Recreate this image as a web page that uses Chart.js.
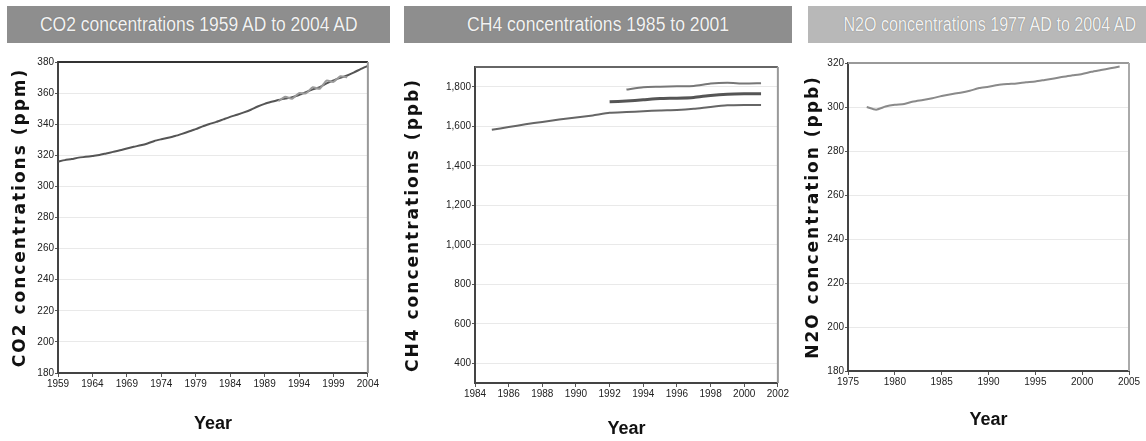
<!DOCTYPE html>
<html>
<head>
<meta charset="utf-8">
<script src="https://cdn.jsdelivr.net/npm/chart.js@4/dist/chart.umd.min.js"></script>
<style>
  body { margin: 0; background: #fff; width: 1146px; height: 441px; overflow: hidden; position: relative; }
  .hdr { position: absolute; top: 6px; height: 37px; line-height: 37px; text-align: center; overflow: hidden;
         color: #f2f2f2; font-family: 'Liberation Sans', sans-serif; font-size: 20px; text-shadow: 0 0 1px #666; }
  .hdr span { display: inline-block; white-space: nowrap; transform-origin: center; }
  .box { position: absolute; top: 0; height: 441px; }
</style>
</head>
<body>
<div class="hdr" style="left:7px;width:383px;background:#8e8e8e"><span data-w="318">CO2 concentrations 1959 AD to 2004 AD</span></div>
<div class="hdr" style="left:404px;width:388px;background:#8e8e8e"><span data-w="262">CH4 concentrations 1985 to 2001</span></div>
<div class="hdr" style="left:808px;width:338px;background:#b8b8b8"><span data-w="293">N2O concentrations 1977 AD to 2004 AD</span></div>

<div class="box" style="left:0;width:380px"><canvas id="co2"></canvas></div>
<div class="box" style="left:390px;width:400px"><canvas id="ch4"></canvas></div>
<div class="box" style="left:780px;width:366px"><canvas id="n2o"></canvas></div>

<script>
// CO2 (ppm), annual
const co2Years = [1959,1960,1961,1962,1963,1964,1965,1966,1967,1968,1969,1970,1971,1972,1973,1974,1975,1976,1977,1978,1979,1980,1981,1982,1983,1984,1985,1986,1987,1988,1989,1990,1991,1992,1993,1994,1995,1996,1997,1998,1999,2000,2001,2002,2003,2004];
const co2Values = [316.0,316.9,317.6,318.5,319.0,319.6,320.2,321.2,322.2,323.2,324.4,325.5,326.4,327.6,329.2,330.3,331.3,332.4,333.8,335.3,336.8,338.6,340.1,341.5,343.1,344.7,346.1,347.6,349.3,351.4,353.1,354.4,355.6,356.5,357.4,358.8,360.6,362.4,363.8,366.2,368.2,369.8,371.3,373.3,375.6,377.5];
// second CO2 record, visible as the thicker band in the 1990s
const co2AltYears = [1991,1992,1993,1994,1995,1996,1997,1998,1999,2000,2001];
const co2AltValues = [354.8,357.6,356.4,360.0,359.8,363.8,362.8,368.0,367.2,370.8,370.2];

// CH4 (ppb), three records
const ch4YearsA = [1985,1986,1987,1988,1989,1990,1991,1992,1993,1994,1995,1996,1997,1998,1999,2000,2001];
const ch4ValuesA = [1582,1596,1610,1622,1634,1644,1655,1668,1672,1676,1680,1682,1688,1698,1706,1708,1708];
const ch4YearsB = [1992,1993,1994,1995,1996,1997,1998,1999,2000,2001];
const ch4ValuesB = [1724,1728,1734,1740,1742,1746,1756,1762,1764,1764];
const ch4YearsC = [1993,1994,1995,1996,1997,1998,1999,2000,2001];
const ch4ValuesC = [1786,1798,1800,1802,1804,1816,1820,1816,1818];
const ch4Ticks = [400,600,800,1000,1200,1400,1600,1800];

// N2O (ppb)
const n2oYears = [1977,1978,1979,1980,1981,1982,1983,1984,1985,1986,1987,1988,1989,1990,1991,1992,1993,1994,1995,1996,1997,1998,1999,2000,2001,2002,2003,2004];
const n2oValues = [300.0,298.8,300.2,301.0,301.4,302.5,303.2,304.0,305.0,305.8,306.5,307.4,308.6,309.2,310.0,310.4,310.7,311.2,311.6,312.3,313.0,313.8,314.4,315.0,316.0,316.8,317.6,318.4];

const pts = (xs, ys) => xs.map((x, i) => ({ x: x, y: ys[i] }));

// squeeze the header texts to the narrow face of the original
document.querySelectorAll('.hdr span').forEach(sp => {
  sp.style.transform = 'scaleX(' + (Number(sp.dataset.w) / sp.offsetWidth) + ')';
});

const tickFont = { family: "'Liberation Sans', sans-serif", size: 10 };
const yTitleFont = { family: "'DejaVu Sans', sans-serif", size: 17, weight: 'bold' };
const xTitleFont = { family: "'Liberation Sans', sans-serif", size: 18, weight: 'bold' };

// draws the top and right sides of the plot frame
const framePlugin = {
  id: 'frame',
  afterDraw(chart, args, opts) {
    const { ctx, chartArea: a } = chart;
    ctx.save();
    ctx.lineWidth = 2;
    ctx.strokeStyle = opts.top;
    ctx.beginPath(); ctx.moveTo(a.left, a.top); ctx.lineTo(a.right, a.top); ctx.stroke();
    ctx.strokeStyle = opts.right;
    ctx.beginPath(); ctx.moveTo(a.right, a.top); ctx.lineTo(a.right, a.bottom); ctx.stroke();
    ctx.restore();
  }
};

// wider letter spacing on the y axis title
function spaceTitle(s, spacing) {
  if (s._spaced) return;
  const orig = s.drawTitle;
  s.drawTitle = function () {
    this.ctx.save();
    this.ctx.letterSpacing = spacing;
    orig.call(this);
    this.ctx.restore();
  };
  s._spaced = true;
}

function line(data, color, width) {
  return { data: data, borderColor: color, borderWidth: width, pointRadius: 0, tension: 0.2, fill: false };
}

function makeChart(id, datasets, cfg) {
  return new Chart(document.getElementById(id), {
    type: 'line',
    data: { datasets: datasets },
    plugins: [framePlugin],
    options: {
      responsive: true,
      maintainAspectRatio: false,
      animation: false,
      layout: { padding: { top: cfg.top, right: cfg.right, left: 0, bottom: 0 } },
      plugins: {
        legend: { display: false },
        tooltip: { enabled: false },
        frame: { top: cfg.frameTop, right: cfg.frameRight }
      },
      scales: {
        x: {
          type: 'linear',
          min: cfg.xMin, max: cfg.xMax,
          afterFit: s => { s.height = cfg.xHeight; },
          border: { color: '#444', width: 2 },
          grid: { drawOnChartArea: false, tickLength: 4, tickColor: '#555' },
          ticks: { stepSize: cfg.xStep, autoSkip: false, maxRotation: 0, color: '#222', font: tickFont, padding: 1,
                   callback: v => String(v) },
          title: { display: true, text: 'Year', color: '#111', font: xTitleFont, padding: { bottom: cfg.xTitlePad } }
        },
        y: {
          min: cfg.yMin, max: cfg.yMax,
          afterFit: s => { s.width = cfg.yWidth; spaceTitle(s, cfg.ySpacing); },
          afterBuildTicks: s => { if (cfg.yTicks) s.ticks = cfg.yTicks.map(v => ({ value: v })); },
          border: { color: '#444', width: 2 },
          grid: { color: '#e9e9e9', tickLength: 3, tickColor: '#555' },
          ticks: { stepSize: cfg.yStep, color: '#222', font: tickFont, padding: 1 },
          title: { display: true, text: cfg.yTitle, color: '#111', font: yTitleFont, padding: { top: cfg.yTitlePad } }
        }
      }
    }
  });
}

makeChart('co2', [
  line(pts(co2AltYears, co2AltValues), '#9a9a9a', 2),
  line(pts(co2Years, co2Values), '#555', 2)
], {
  top: 62, right: 12, xHeight: 68, yWidth: 58,
  xMin: 1959, xMax: 2004, xStep: 5, yMin: 180, yMax: 380, yStep: 20,
  yTitle: 'CO2 concentrations (ppm)', yTitlePad: 10, xTitlePad: 6, ySpacing: '2px',
  frameTop: '#333', frameRight: '#999'
});

makeChart('ch4', [
  line(pts(ch4YearsA, ch4ValuesA), '#666', 2),
  line(pts(ch4YearsB, ch4ValuesB), '#555', 3),
  line(pts(ch4YearsC, ch4ValuesC), '#777', 2)
], {
  top: 67, right: 9, xHeight: 58, yWidth: 85,
  xMin: 1984, xMax: 2002, xStep: 2, yMin: 300, yMax: 1900, yStep: 200, yTicks: ch4Ticks,
  yTitle: 'CH4 concentrations (ppb)', yTitlePad: 13, xTitlePad: 1, ySpacing: '2px',
  frameTop: '#666', frameRight: '#999'
});

makeChart('n2o', [
  line(pts(n2oYears, n2oValues), '#8a8a8a', 2)
], {
  top: 63, right: 17, xHeight: 70, yWidth: 68,
  xMin: 1975, xMax: 2005, xStep: 5, yMin: 180, yMax: 320, yStep: 20,
  yTitle: 'N2O concentration (ppb)', yTitlePad: 23, xTitlePad: 10, ySpacing: '2px',
  frameTop: '#999', frameRight: '#aaa'
});
</script>
</body>
</html>
